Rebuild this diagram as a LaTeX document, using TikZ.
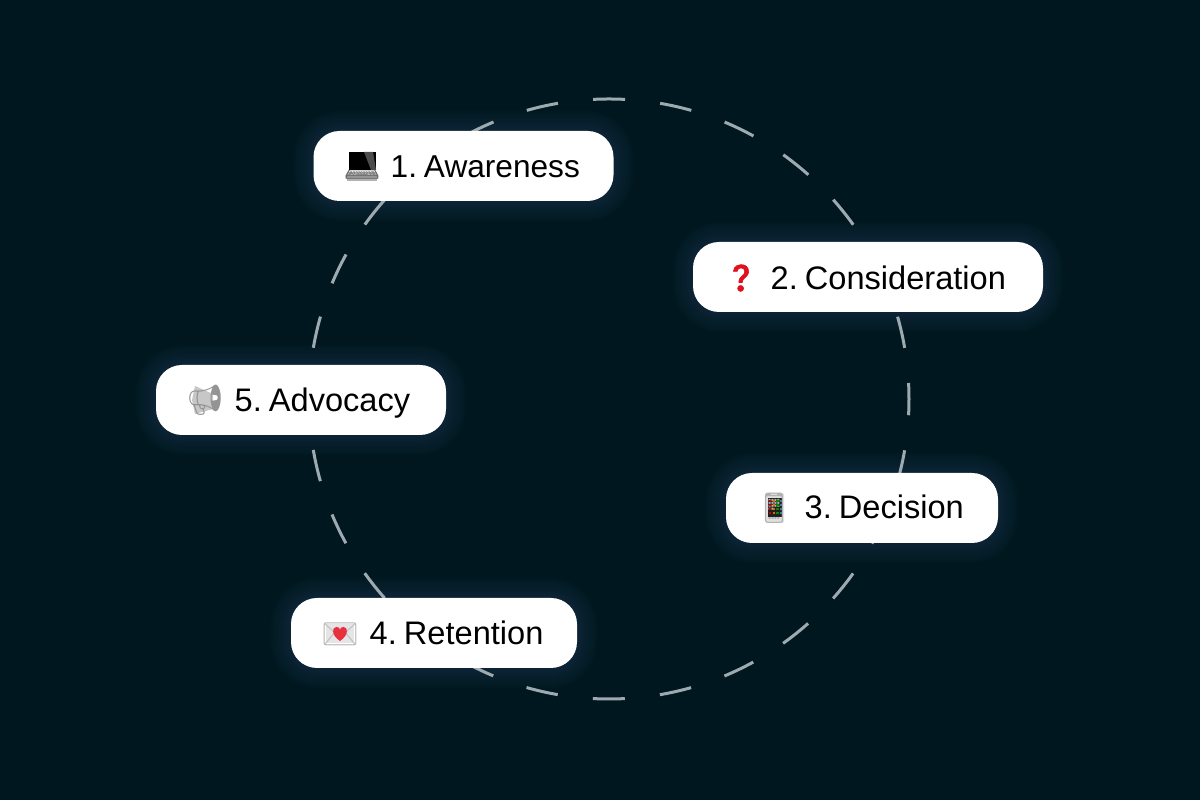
\documentclass[tikz,border=0pt]{standalone}
\usepackage{fontspec}
\setmainfont[WordSpace=0.45]{Liberation Sans}
\newfontfamily\emojifont{Noto Emoji}
\newfontfamily\emojibold[FakeBold=2]{Noto Emoji}
\definecolor{bgdark}{HTML}{011720}
\definecolor{glowteal}{HTML}{7FC4DC}
\definecolor{ringgrey}{HTML}{9DAAB0}
\definecolor{qred}{HTML}{E0101E}
\definecolor{heartred}{HTML}{E8303F}
\tikzset{
  card/.style={fill=white,rounded corners=0.26cm,minimum height=0.7cm,inner sep=0pt},
  cardtext/.style={anchor=base west,inner sep=0pt,text=black,font=\fontsize{9.27pt}{11pt}\selectfont},
  icon/.style={inner sep=0pt,font=\emojifont\fontsize{8.5pt}{10pt}\selectfont},
}
\begin{document}
\begin{tikzpicture}
  \useasboundingbox (0,0) rectangle (12,8);
  \fill [bgdark] (0,0) rectangle (12,8);
  % glow behind the cards
  \foreach \cx/\cy/\w in {4.635/6.34/3.0, 8.68/5.23/3.5, 8.62/2.92/2.72, 4.34/1.67/2.86, 3.01/4.0/2.9}
    \foreach \g in {0.04,0.08,...,0.44}
      \draw [glowteal,opacity=0.01,line width=\g cm,rounded corners=0.26cm]
        (\cx-\w/2,\cy-0.35) rectangle (\cx+\w/2,\cy+0.35);
  % dashed ring
  \draw [ringgrey,line width=0.03cm,dash pattern=on 0.32cm off 0.3532cm,dash phase=0.16cm]
    (9.09,4.01) arc [start angle=0,end angle=360,radius=3];
  % cards
  \node [card,minimum width=3.0cm] (awareness) at (4.635,6.34) {};
  \node [card,minimum width=3.5cm] (consideration) at (8.68,5.23) {};
  \node [card,minimum width=2.72cm] (decision) at (8.62,2.92) {};
  \node [card,minimum width=2.86cm] (retention) at (4.34,1.67) {};
  \node [card,minimum width=2.9cm] (advocacy) at (3.01,4.0) {};
  % labels
  \node [cardtext,font=\fontsize{9pt}{11pt}\selectfont] (awarenesslabel) at (3.90,6.225) {1. Awareness};
  \node [cardtext] (considerationlabel) at (7.70,5.107) {2. Consideration};
  \node [cardtext] (decisionlabel) at (8.04,2.81) {3. Decision};
  \node [cardtext] (retentionlabel) at (3.69,1.55) {4. Retention};
  \node [cardtext] (advocacylabel) at (2.34,3.883) {5. Advocacy};
  % icon backings
  \fill [black!30] (3.47,6.19) rectangle (3.77,6.28);
  \fill [black!12,rounded corners=0.02cm] (7.66,2.77) rectangle (7.84,3.07);
  \fill [black!88] (7.675,2.83) rectangle (7.825,3.02);
  \fill [black!10] (3.26,1.57) rectangle (3.54,1.76);
  \fill [black!22] (1.92,4.0) -- (1.95,4.14) -- (2.13,4.06) -- (2.13,3.91) -- (1.95,3.86) -- cycle;
  % icons
  \node [icon,text=black!60] (laptop) at (3.62,6.34) {💻};
  \node [icon,text=qred,font=\emojibold\fontsize{7.5pt}{9pt}\selectfont] (question) at (7.41,5.22) {❓};
  \node [icon,text=black!30] (phone) at (7.74,2.92) {📱};
  \node [icon,text=black!25] (letter) at (3.40,1.66) {💌};
  \node [icon,text=black!42] (horn) at (2.05,4.0) {📢};
  % icon details
  \fill [black] (3.49,6.30) rectangle (3.76,6.48);
  \fill [black!70] (3.64,6.48) -- (3.73,6.48) -- (3.76,6.30) -- (3.71,6.30) -- cycle;
  \foreach \i/\c in {0/red!80!black,1/orange!85!black,2/green!55!black,3/cyan!55!black}
    \foreach \j in {0,1,2,3}
      \fill [\c] (7.69+\i*0.036,2.86+\j*0.04) rectangle ++(0.024,0.024);
  \fill [heartred] (3.40,1.59) .. controls (3.31,1.65) and (3.32,1.73) .. (3.365,1.73)
    .. controls (3.385,1.73) and (3.40,1.72) .. (3.40,1.70)
    .. controls (3.40,1.72) and (3.415,1.73) .. (3.435,1.73)
    .. controls (3.48,1.73) and (3.49,1.65) .. (3.40,1.59) -- cycle;
\end{tikzpicture}
\end{document}
